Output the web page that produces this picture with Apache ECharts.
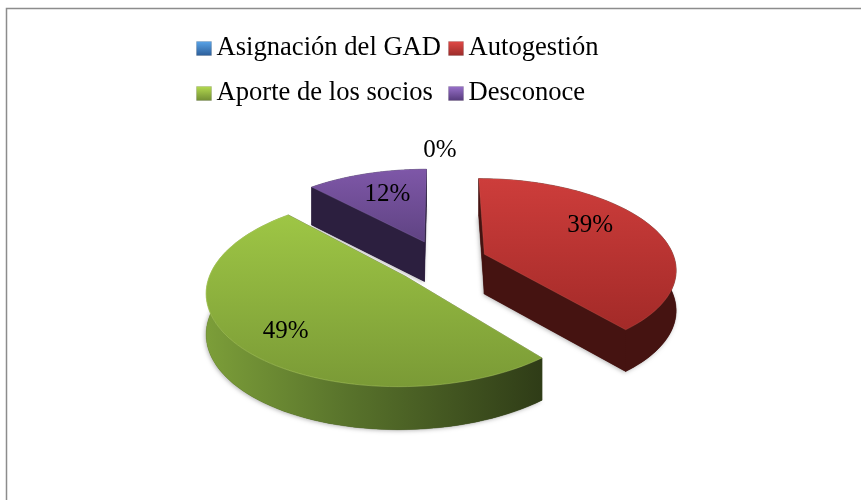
<!DOCTYPE html>
<html><head><meta charset="utf-8">
<style>html,body{margin:0;padding:0;background:#fff}#c{width:861px;height:500px}</style>
<script src="https://cdn.jsdelivr.net/npm/echarts@6/dist/echarts.min.js"></script>
</head><body><div id="c"></div>
<script>
const categories = ['Asignación del GAD', 'Autogestión', 'Aporte de los socios', 'Desconoce'];
const shares = [0, 39, 49, 12];
const labels = ['0%', '39%', '49%', '12%'];

// Drawing order, back to front
const paintOrder = [0, 3, 2, 1];
// Projection of the tilted pie plane
const view = { cx: 441, cy: 261.5, rx: 191, ry: 89, persp: 0.15, explode: 0.244, depth: 40, depthPersp: 0.06 };
// Label anchors in pie-plane polar form (degrees clockwise from top, radius fraction)
const labelAngles = [359.7, 60.0, 225.0, 340.0];
const labelRadii = [1.295, 0.695, 0.77, 0.66];

const looks = [
  { top: ['#5b9bd5', '#2c5f9e'], wall: [['#1f3f66', 0], ['#1f3f66', 1]], face: '#1f3f66', rim: 'rgba(140,180,230,.3)', icon: ['#5aa5ea', '#2b5c97'] },
  { top: ['#cd3d3b', '#a32a28'], wall: [['#451311', 0], ['#451311', 1]], face: '#451311', rim: 'rgba(225,110,100,.25)', icon: ['#e24a47', '#9a2b29'] },
  { top: ['#9ec645', '#7a9a36'], wall: [['#7c9e39', 0], ['#5a752c', .4], ['#2f3c17', 1]], face: '#2f3c17', rim: 'rgba(190,220,110,.4)', icon: ['#b5dc50', '#708c33'] },
  { top: ['#7e57a8', '#5f4382'], wall: [['#2c1f3f', 0], ['#2c1f3f', 1]], face: '#2c1f3f', rim: 'rgba(160,130,200,.25)', icon: ['#9a72cc', '#54397a'] }
];

const rad = d => d * Math.PI / 180;
function project(X, T) {
  const w = 1 + view.persp * T;
  return [view.cx + view.rx * X / w, view.cy - view.ry * T / w];
}
function drop(X, T) {
  const p = project(X, T);
  return [p[0], p[1] + view.depth / (1 + view.depthPersp * T)];
}
const total = shares.reduce((a, b) => a + b, 0);
const spans = [];
shares.reduce((acc, v) => { const s = acc + v; spans.push([acc / total * 360, s / total * 360]); return s; }, 0);

function sliceItem(i, value) {
  const start = spans[i][0], end = start + value / total * 360, mid = (start + end) / 2;
  const ox = view.explode * Math.sin(rad(mid)), oy = view.explode * Math.cos(rad(mid));
  const look = looks[i];
  const children = [];
  if (value > 0) {
    const arc = [];
    const n = 80;
    for (let k = 0; k <= n; k++) {
      const a = rad(start + (end - start) * k / n);
      arc.push([ox + Math.sin(a), oy + Math.cos(a)]);
    }
    const apex = [ox, oy];
    const wall = (a, fill) => ({
      type: 'polygon',
      shape: { points: a.map(q => project(q[0], q[1])).concat(a.slice().reverse().map(q => drop(q[0], q[1]))) },
      style: { fill: fill, stroke: fill, lineWidth: 0.5 }
    });
    // Soft contact shadow under the whole slice
    children.push({
      type: 'polygon',
      shape: { points: [drop(apex[0], apex[1])].concat(arc.map(q => drop(q[0], q[1]))) },
      style: { fill: look.face, shadowBlur: 4, shadowColor: 'rgba(0,0,0,.3)', shadowOffsetX: -1, shadowOffsetY: 1 }
    });
    children.push(wall([apex, arc[0]], look.face));
    children.push(wall([apex, arc[n]], look.face));
    children.push(wall(arc, {
      type: 'linear', x: 0, y: 0, x2: 1, y2: 0,
      colorStops: look.wall.map(s => ({ color: s[0], offset: s[1] }))
    }));
    children.push({
      type: 'polygon',
      shape: { points: [project(apex[0], apex[1])].concat(arc.map(q => project(q[0], q[1]))) },
      style: {
        fill: { type: 'linear', x: 0, y: 0, x2: 0, y2: 1, colorStops: [{ offset: 0, color: look.top[0] }, { offset: 1, color: look.top[1] }] },
        stroke: look.rim, lineWidth: 1
      }
    });
  }
  const la = rad(labelAngles[i]), lr = labelRadii[i];
  const lp = project(ox + lr * Math.sin(la), oy + lr * Math.cos(la));
  children.push({
    type: 'text', z2: 50,
    style: { x: lp[0], y: lp[1], text: labels[i], fill: '#000', font: '25px "Liberation Serif"', textAlign: 'center', textVerticalAlign: 'middle' }
  });
  return { type: 'group', children };
}

const series = paintOrder.map((i, order) => ({
  type: 'custom',
  name: categories[i],
  coordinateSystem: 'none',
  z: 2 + order,
  silent: true,
  animation: false,
  itemStyle: { color: looks[i].icon[1] },
  data: [{ name: categories[i], value: [shares[i]] }],
  renderItem: (params, api) => sliceItem(i, api.value(0))
}));

const legendData = ids => ids.map(i => ({
  name: categories[i], icon: 'rect',
  itemStyle: { color: { type: 'linear', x: 0, y: 0, x2: 0, y2: 1, colorStops: [{ offset: 0, color: looks[i].icon[0] }, { offset: 1, color: looks[i].icon[1] }] }, borderColor: 'rgba(0,0,0,.12)', borderWidth: 1 }
}));
const legendBase = {
  orient: 'vertical', selectedMode: false, itemWidth: 15, itemHeight: 14, itemGap: 18, padding: 0,
  textStyle: { fontFamily: 'Liberation Serif', fontSize: 26.6, color: '#000' }
};

const chart = echarts.init(document.getElementById('c'), null, { renderer: 'canvas' });
chart.setOption({
  animation: false,
  backgroundColor: '#fff',
  legend: [
    Object.assign({}, legendBase, { left: 196, top: 35, data: legendData([0, 2]) }),
    Object.assign({}, legendBase, { left: 448, top: 35, data: legendData([1, 3]) })
  ],
  graphic: [
    { type: 'rect', silent: true, z: 0, shape: { x: 6.5, y: 8.5, width: 950, height: 600 }, style: { fill: null, stroke: '#8c8c8c', lineWidth: 1.5 } }
  ],
  series
});
</script></body></html>
